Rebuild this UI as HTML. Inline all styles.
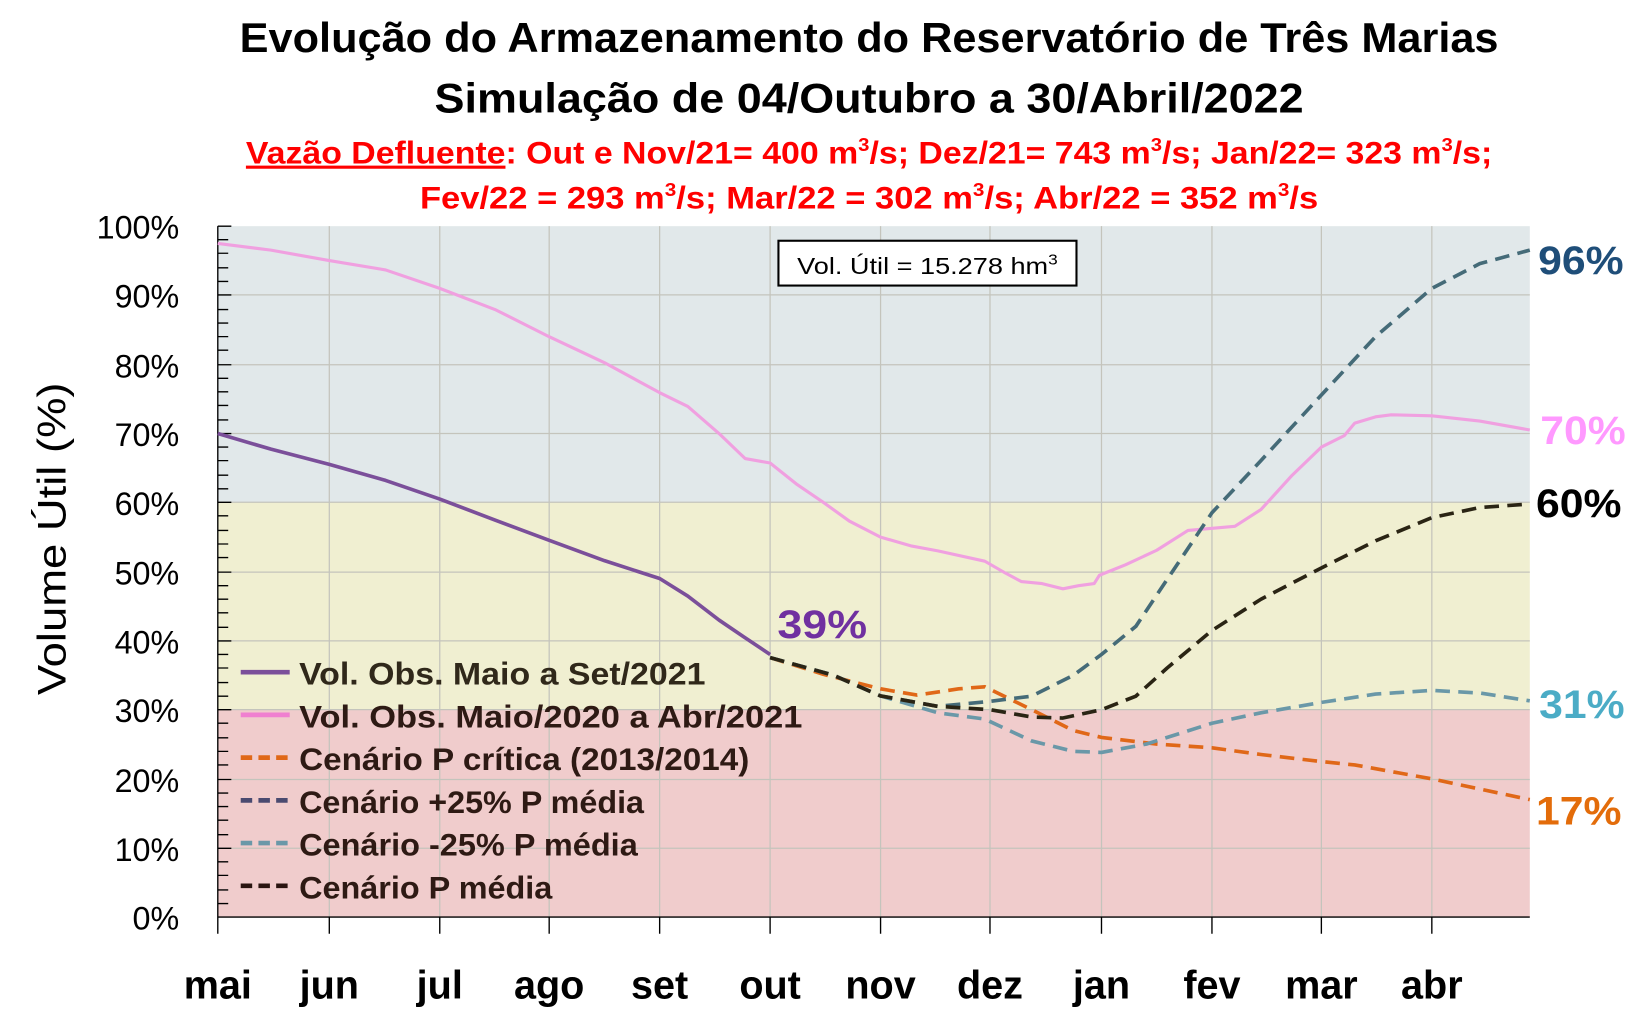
<!DOCTYPE html>
<html><head><meta charset="utf-8"><style>
html,body{margin:0;padding:0;background:#fff;}
svg{display:block;}
text{font-family:"Liberation Sans",sans-serif;}
</style></head><body>
<svg width="1634" height="1014" viewBox="0 0 1568 973" xmlns="http://www.w3.org/2000/svg">
<!-- titles -->
<text x="834" y="50" font-size="40" font-weight="bold" text-anchor="middle" textLength="1208" lengthAdjust="spacingAndGlyphs">Evolução do Armazenamento do Reservatório de Três Marias</text>
<text x="834" y="108" font-size="40" font-weight="bold" text-anchor="middle" textLength="834" lengthAdjust="spacingAndGlyphs">Simulação de 04/Outubro a 30/Abril/2022</text>
<text x="834" y="157" font-size="30" font-weight="bold" fill="#ff0000" text-anchor="middle" textLength="1196" lengthAdjust="spacingAndGlyphs"><tspan text-decoration="underline">Vazão Defluente</tspan>: Out e Nov/21= 400 m<tspan font-size="18" dy="-12">3</tspan><tspan dy="12">/s; Dez/21= 743 m</tspan><tspan font-size="18" dy="-12">3</tspan><tspan dy="12">/s; Jan/22= 323 m</tspan><tspan font-size="18" dy="-12">3</tspan><tspan dy="12">/s;</tspan></text>
<text x="834" y="200" font-size="30" font-weight="bold" fill="#ff0000" text-anchor="middle" textLength="862" lengthAdjust="spacingAndGlyphs">Fev/22 = 293 m<tspan font-size="18" dy="-12">3</tspan><tspan dy="12">/s; Mar/22 = 302 m</tspan><tspan font-size="18" dy="-12">3</tspan><tspan dy="12">/s; Abr/22 = 352 m</tspan><tspan font-size="18" dy="-12">3</tspan><tspan dy="12">/s</tspan></text>

<!-- bands -->
<rect x="209" y="217" width="1259" height="265" fill="#e1e8ea"/>
<rect x="209" y="482" width="1259" height="199" fill="#f0efd1"/>
<rect x="209" y="681" width="1259" height="199" fill="#f0cccc"/>
<!-- grid -->
<g stroke="#c4c4bc" stroke-width="1.2">
<line x1="209" y1="283" x2="1468" y2="283"/><line x1="209" y1="350" x2="1468" y2="350"/>
<line x1="209" y1="416" x2="1468" y2="416"/><line x1="209" y1="482" x2="1468" y2="482"/>
<line x1="209" y1="549" x2="1468" y2="549"/><line x1="209" y1="615" x2="1468" y2="615"/>
<line x1="209" y1="681" x2="1468" y2="681"/><line x1="209" y1="748" x2="1468" y2="748"/>
<line x1="209" y1="814" x2="1468" y2="814"/>
<line x1="316" y1="217" x2="316" y2="880"/><line x1="422" y1="217" x2="422" y2="880"/>
<line x1="527" y1="217" x2="527" y2="880"/><line x1="633" y1="217" x2="633" y2="880"/>
<line x1="739" y1="217" x2="739" y2="880"/><line x1="845" y1="217" x2="845" y2="880"/>
<line x1="950" y1="217" x2="950" y2="880"/><line x1="1057" y1="217" x2="1057" y2="880"/>
<line x1="1163" y1="217" x2="1163" y2="880"/><line x1="1268" y1="217" x2="1268" y2="880"/>
<line x1="1374" y1="217" x2="1374" y2="880"/>
</g>
<!-- axes -->
<g stroke="#000" stroke-width="1.3">
<line x1="209" y1="217" x2="209" y2="896"/>
<line x1="209" y1="880" x2="1468" y2="880"/>
<path d="M209 217h13M209 230h10M209 243h10M209 257h10M209 270h10M209 283h13M209 297h10M209 310h10M209 323h10M209 336h10M209 350h13M209 363h10M209 376h10M209 389h10M209 403h10M209 416h13M209 429h10M209 442h10M209 456h10M209 469h10M209 482h13M209 495h10M209 509h10M209 522h10M209 535h10M209 549h13M209 562h10M209 575h10M209 588h10M209 602h10M209 615h13M209 628h10M209 641h10M209 655h10M209 668h10M209 681h13M209 694h10M209 708h10M209 721h10M209 734h10M209 748h13M209 761h10M209 774h10M209 787h10M209 801h10M209 814h13M209 827h10M209 840h10M209 854h10M209 867h10"/>
<path d="M316 880v16M422 880v16M527 880v16M633 880v16M739 880v16M845 880v16M950 880v16M1057 880v16M1163 880v16M1268 880v16M1374 880v16"/>
</g>
<!-- y labels -->
<g font-size="31" text-anchor="end" fill="#000">
<text x="172" y="229">100%</text><text x="172" y="295">90%</text><text x="172" y="362">80%</text>
<text x="172" y="428">70%</text><text x="172" y="494">60%</text><text x="172" y="561">50%</text>
<text x="172" y="627">40%</text><text x="172" y="693">30%</text><text x="172" y="760">20%</text>
<text x="172" y="826">10%</text><text x="172" y="892">0%</text>
</g>
<text transform="translate(63 517) rotate(-90)" font-size="38" text-anchor="middle" textLength="300" lengthAdjust="spacingAndGlyphs">Volume  Útil (%)</text>
<!-- x labels -->
<g font-size="38" font-weight="bold" text-anchor="middle">
<text x="209" y="958">mai</text><text x="316" y="958">jun</text><text x="422" y="958">jul</text>
<text x="527" y="958">ago</text><text x="633" y="958">set</text><text x="739" y="958">out</text>
<text x="845" y="958">nov</text><text x="950" y="958">dez</text><text x="1057" y="958">jan</text>
<text x="1163" y="958">fev</text><text x="1268" y="958">mar</text><text x="1374" y="958">abr</text>
</g>
<!-- vol box -->
<rect x="747" y="231" width="286" height="43" fill="#fff" stroke="#000" stroke-width="2"/>
<text x="890" y="263" font-size="22" text-anchor="middle" textLength="250" lengthAdjust="spacingAndGlyphs">Vol. Útil  = 15.278 hm<tspan font-size="14" dy="-9">3</tspan></text>

<!-- series -->
<g fill="none" stroke-linejoin="round" stroke-width="3.5">
<polyline stroke="#f0a0e0" stroke-width="3" points="209,233.6 260,240 316,250 370,259 422,276.7 475,297 527,323.1 580,348 633,376.8 660,390 690,416 715,440 739,444.3 765,465 790,482 815,500 845,515.4 875,524 900,528.6 945,538.5 965,550 980,558 1000,560 1020,565 1035,562 1050,560 1055,552 1080,542 1110,528 1140,509 1185,505 1210,489 1240,456 1268,429 1290,418 1300,406 1320,400 1335,398 1374,399 1420,404 1468,412.6"/>
<polyline stroke="#7b4f9a" stroke-width="3.5" points="209,416 260,431 316,445.6 370,461 422,478.9 475,499 527,518.5 580,538 633,555.1 660,572 690,595 715,612 739,628"/>
<polyline stroke="#e06818" stroke-dasharray="14,8" points="739,631 790,647 845,661 880,667 920,661 945,659 990,681 1030,701 1057,707.6 1110,714 1163,717.6 1210,724 1268,730.8 1300,734 1374,747.4 1468,767.3"/>
<polyline stroke="#456b78" stroke-dasharray="14,8" points="739,631 800,648 845,667.8 900,677.8 950,673 990,668 1030,648 1057,628 1090,601 1120,556 1163,492 1210,442 1268,379 1320,323 1374,276.7 1420,253 1468,240"/>
<polyline stroke="#6a98a8" stroke-dasharray="14,8" points="739,631 800,648 845,667.8 900,684 945,690 990,711 1030,721 1057,722 1100,714 1163,694 1210,684 1268,674 1320,666 1374,662.5 1420,665 1468,672.5"/>
<polyline stroke="#2a2414" stroke-dasharray="14,8" points="739,631 800,648 845,667.8 900,677.8 950,681 990,688 1020,689 1057,681 1090,668 1120,641 1163,605 1210,575 1268,545 1320,519 1374,496.7 1420,487 1468,483.6"/>
</g>

<!-- legend -->
<g stroke-width="4.5">
<line x1="231" y1="645" x2="278" y2="645" stroke="#7b4f9a"/>
<line x1="231" y1="686" x2="278" y2="686" stroke="#f080d0"/>
<line x1="231" y1="727" x2="278" y2="727" stroke="#e06818" stroke-dasharray="11,6"/>
<line x1="231" y1="768" x2="278" y2="768" stroke="#4a4a70" stroke-dasharray="11,6"/>
<line x1="231" y1="809" x2="278" y2="809" stroke="#6a98a8" stroke-dasharray="11,6"/>
<line x1="231" y1="850" x2="278" y2="850" stroke="#2a1410" stroke-dasharray="11,6"/>
</g>
<g font-size="30" font-weight="bold" fill="#30281a">
<text x="287" y="657" textLength="390" lengthAdjust="spacingAndGlyphs">Vol. Obs. Maio a Set/2021</text>
<text x="287" y="698" textLength="483" lengthAdjust="spacingAndGlyphs" fill="#2e1a14">Vol. Obs. Maio/2020 a Abr/2021</text>
<text x="287" y="739" textLength="432" lengthAdjust="spacingAndGlyphs" fill="#2e1a14">Cenário P crítica (2013/2014)</text>
<text x="287" y="780" textLength="331" lengthAdjust="spacingAndGlyphs" fill="#2e1a14">Cenário +25% P média</text>
<text x="287" y="821" textLength="325" lengthAdjust="spacingAndGlyphs" fill="#2e1a14">Cenário -25% P média</text>
<text x="287" y="862" textLength="243" lengthAdjust="spacingAndGlyphs" fill="#2e1a14">Cenário P média</text>
</g>

<!-- end labels -->
<g font-size="38" font-weight="bold">
<text x="746" y="612" fill="#7030a0" textLength="86" lengthAdjust="spacingAndGlyphs">39%</text>
<text x="1476" y="263" fill="#1f4e79" textLength="82" lengthAdjust="spacingAndGlyphs">96%</text>
<text x="1478" y="426" fill="#ff99ff" textLength="82" lengthAdjust="spacingAndGlyphs">70%</text>
<text x="1474" y="496" fill="#000" textLength="82" lengthAdjust="spacingAndGlyphs">60%</text>
<text x="1477" y="689" fill="#4bacc6" textLength="82" lengthAdjust="spacingAndGlyphs">31%</text>
<text x="1474" y="791" fill="#e36c0a" textLength="82" lengthAdjust="spacingAndGlyphs">17%</text>
</g>
</svg>
</body></html>
